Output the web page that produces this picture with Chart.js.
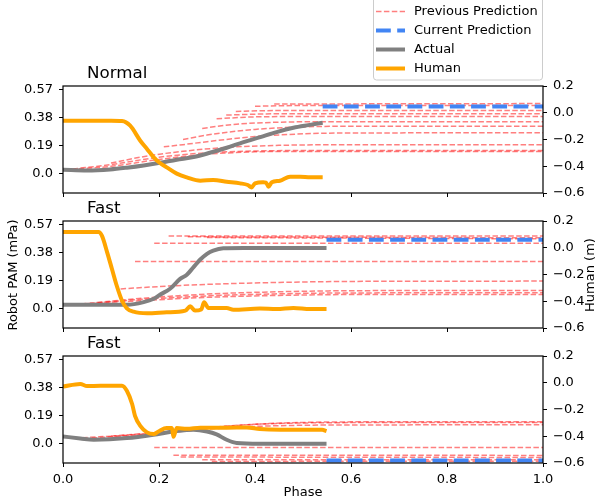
<!DOCTYPE html>
<html>
<head>
<meta charset="utf-8">
<script src="https://cdn.jsdelivr.net/npm/chart.js@4"></script>
<style>
  body { margin: 0; background: #fff; }
  #wrap { position: relative; width: 600px; height: 504px; overflow: hidden; background: #fff; }
  canvas { position: absolute; left: 0; }
</style>
</head>
<body>
<div id="wrap">
  <canvas id="c1" width="600" height="210" style="top:0px"></canvas>
  <canvas id="c2" width="600" height="145" style="top:200px"></canvas>
  <canvas id="c3" width="600" height="169" style="top:335px"></canvas>
</div>
<script>
// ---- data ----
const titles = ['Normal', 'Fast', 'Fast'];
const xTicks = [0, 0.2, 0.4, 0.6, 0.8, 1.0];
const leftTicks = [0, 0.19, 0.38, 0.57];
const rightTicks = [-0.6, -0.4, -0.2, 0, 0.2];

// subplot 1 (Normal)
const phaseA1 = [0, 0.05, 0.098, 0.133, 0.168, 0.202, 0.237, 0.272, 0.306, 0.341, 0.376, 0.411, 0.445, 0.48, 0.511, 0.541];
const actual1 = [0.025, 0.02, 0.027, 0.039, 0.054, 0.072, 0.093, 0.111, 0.14, 0.174, 0.212, 0.246, 0.28, 0.309, 0.327, 0.343];
const phaseH1 = [0, 0.05, 0.10, 0.123, 0.14, 0.161, 0.175, 0.189, 0.202, 0.216, 0.237, 0.258, 0.286, 0.313, 0.341, 0.369, 0.385, 0.393, 0.40, 0.417, 0.423, 0.428, 0.435, 0.452, 0.473, 0.494, 0.515, 0.541];
const human1 = [-0.06, -0.06, -0.06, -0.062, -0.097, -0.209, -0.271, -0.333, -0.376, -0.408, -0.455, -0.483, -0.508, -0.503, -0.516, -0.528, -0.54, -0.558, -0.528, -0.52, -0.522, -0.553, -0.52, -0.508, -0.478, -0.478, -0.483, -0.483];
const curPhase1 = [0.541, 1.0];
const cur1 = [0.453, 0.453];
const prevPhase1 = [
  [0, 0.1, 0.2, 0.3, 0.4, 0.5, 1.0],
  [0.02, 0.1, 0.2, 0.3, 0.4, 0.5, 1.0],
  [0.1, 0.17, 0.25, 0.35, 0.45, 0.55, 1.0],
  [0.21, 0.25, 0.3, 0.4, 0.5, 0.6, 1.0],
  [0.25, 0.3, 0.4, 0.5, 0.6, 1.0],
  [0.29, 0.35, 0.45, 0.55, 1.0],
  [0.32, 0.4, 0.5, 1.0],
  [0.34, 0.45, 1.0],
  [0.36, 0.45, 1.0],
  [0.40, 0.5, 1.0],
  [0.44, 1.0]
];
const prev1 = [
  [0.025, 0.048, 0.095, 0.13, 0.146, 0.149, 0.149],
  [0.03, 0.06, 0.11, 0.14, 0.152, 0.155, 0.155],
  [0.07, 0.115, 0.15, 0.178, 0.19, 0.194, 0.194],
  [0.18, 0.195, 0.215, 0.25, 0.268, 0.274, 0.275],
  [0.23, 0.26, 0.298, 0.315, 0.32, 0.32],
  [0.305, 0.33, 0.347, 0.35, 0.35],
  [0.37, 0.383, 0.385, 0.385],
  [0.395, 0.404, 0.404],
  [0.42, 0.426, 0.426],
  [0.455, 0.46, 0.46],
  [0.47, 0.473]
];

// subplot 2 (Fast)
const phaseA2 = [0, 0.133, 0.168, 0.189, 0.202, 0.223, 0.244, 0.258, 0.272, 0.286, 0.3, 0.313, 0.334, 0.376, 0.549];
const actual2 = [0.025, 0.025, 0.043, 0.066, 0.093, 0.133, 0.2, 0.228, 0.28, 0.331, 0.37, 0.392, 0.408, 0.41, 0.41];
const phaseH2 = [0, 0.074, 0.081, 0.092, 0.102, 0.112, 0.123, 0.133, 0.147, 0.175, 0.216, 0.255, 0.265, 0.275, 0.288, 0.294, 0.303, 0.341, 0.355, 0.41, 0.445, 0.48, 0.515, 0.549];
const human2 = [0.117, 0.117, 0.09, -0.034, -0.159, -0.284, -0.396, -0.453, -0.478, -0.49, -0.483, -0.47, -0.438, -0.47, -0.462, -0.408, -0.45, -0.45, -0.463, -0.455, -0.458, -0.45, -0.458, -0.458];
const curPhase2 = [0.549, 1.0];
const cur2 = [0.465, 0.465];
const prevPhase2 = [
  [0.02, 0.15, 0.3, 0.45, 0.6, 1.0],
  [0.04, 0.15, 0.3, 0.45, 0.6, 1.0],
  [0.07, 0.15, 0.3, 0.45, 0.6, 1.0],
  [0.12, 0.2, 0.3, 0.45, 0.6, 1.0],
  [0.15, 1.0],
  [0.19, 1.0],
  [0.22, 1.0],
  [0.26, 1.0],
  [0.30, 1.0]
];
const prev2 = [
  [0.028, 0.05, 0.075, 0.088, 0.094, 0.095],
  [0.03, 0.058, 0.085, 0.099, 0.105, 0.106],
  [0.04, 0.065, 0.097, 0.113, 0.12, 0.122],
  [0.132, 0.148, 0.163, 0.176, 0.183, 0.185],
  [0.318, 0.318],
  [0.442, 0.442],
  [0.49, 0.49],
  [0.485, 0.478],
  [0.48, 0.471]
];

// subplot 3 (Fast)
const phaseA3 = [0, 0.036, 0.064, 0.133, 0.202, 0.237, 0.272, 0.3, 0.32, 0.341, 0.362, 0.41, 0.549];
const actual3 = [0.047, 0.034, 0.025, 0.036, 0.066, 0.084, 0.093, 0.081, 0.061, 0.025, 0.003, -0.002, -0.002];
const phaseH3 = [0, 0.036, 0.05, 0.078, 0.123, 0.133, 0.144, 0.15, 0.161, 0.175, 0.189, 0.199, 0.216, 0.227, 0.23, 0.237, 0.258, 0.286, 0.341, 0.383, 0.41, 0.515, 0.54, 0.549];
const human3 = [-0.029, -0.009, -0.025, -0.022, -0.022, -0.06, -0.159, -0.247, -0.322, -0.371, -0.384, -0.364, -0.339, -0.339, -0.404, -0.339, -0.344, -0.336, -0.336, -0.335, -0.345, -0.352, -0.352, -0.362];
const curPhase3 = [0.549, 1.0];
const cur3 = [-0.115, -0.115];
const prevPhase3 = [
  [0.04, 0.15, 0.25, 0.35, 0.45, 0.6, 1.0],
  [0.06, 0.15, 0.25, 0.35, 0.45, 0.6, 1.0],
  [0.1, 0.2, 0.3, 0.4, 0.5, 0.6, 1.0],
  [0.19, 1.0],
  [0.23, 1.0],
  [0.245, 1.0],
  [0.29, 1.0],
  [0.31, 1.0]
];
const prev3 = [
  [0.038, 0.06, 0.09, 0.12, 0.135, 0.141, 0.142],
  [0.036, 0.055, 0.082, 0.108, 0.12, 0.125, 0.126],
  [0.05, 0.075, 0.105, 0.13, 0.142, 0.146, 0.147],
  [-0.028, -0.027],
  [-0.08, -0.081],
  [-0.092, -0.095],
  [-0.11, -0.11],
  [-0.122, -0.12]
];

const subplots = [
  { pa: phaseA1, a: actual1, ph: phaseH1, h: human1, pc: curPhase1, c: cur1, pp: prevPhase1, p: prev1 },
  { pa: phaseA2, a: actual2, ph: phaseH2, h: human2, pc: curPhase2, c: cur2, pp: prevPhase2, p: prev2 },
  { pa: phaseA3, a: actual3, ph: phaseH3, h: human3, pc: curPhase3, c: cur3, pp: prevPhase3, p: prev3 }
];

// ---- styles ----
const prevColor = 'rgba(255, 0, 0, 0.5)';
const curColor = '#4285f4';
const actColor = '#808080';
const humColor = '#ffa500';
const tickFont = { family: 'DejaVu Sans', size: 13 };

Chart.defaults.font.family = 'DejaVu Sans';
Chart.defaults.color = '#000';

function pts(xs, ys) {
  return xs.map((x, i) => ({ x: x, y: ys[i] }));
}

function makeDatasets(s) {
  const ds = [];
  ds.push({ label: 'Human', data: pts(s.ph, s.h), yAxisID: 'yR', borderColor: humColor, borderWidth: 4 });
  ds.push({ label: 'Actual', data: pts(s.pa, s.a), yAxisID: 'yL', borderColor: actColor, borderWidth: 4 });
  ds.push({ label: 'Current Prediction', data: pts(s.pc, s.c), yAxisID: 'yL', borderColor: curColor, borderWidth: 4, borderDash: [14.8, 6.4] });
  for (let i = 0; i < s.pp.length; i++) {
    ds.push({ label: 'Previous Prediction', data: pts(s.pp[i], s.p[i]), yAxisID: 'yL', borderColor: prevColor, borderWidth: 1.5, borderDash: [5.5, 2.4] });
  }
  return ds;
}

function leftLabel(v) { return v === 0 ? '0.0' : v.toFixed(2); }
function rightLabel(v) { return (v < -1e-9 ? '\u2212' : '') + Math.abs(v).toFixed(1); }

function makeScales(showX) {
  return {
    x: {
      type: 'linear', min: 0, max: 1,
      afterBuildTicks: s => { s.ticks = xTicks.map(v => ({ value: v })); },
      afterFit: s => { s.height = showX ? 41 : 4; },
      grid: { drawOnChartArea: false, color: '#000', tickLength: 4 },
      border: { display: false },
      ticks: { display: showX, font: tickFont, color: '#000', padding: 5, maxRotation: 0, callback: v => v.toFixed(1) }
    },
    yL: {
      type: 'linear', position: 'left', min: -0.1325, max: 0.592,
      afterBuildTicks: s => { s.ticks = leftTicks.map(v => ({ value: v })); },
      afterFit: s => { s.width = 63; },
      grid: { drawOnChartArea: false, color: '#000', tickLength: 4 },
      border: { display: false },
      ticks: { font: tickFont, color: '#000', padding: 6, callback: leftLabel }
    },
    yR: {
      type: 'linear', position: 'right', min: -0.6, max: 0.2,
      afterBuildTicks: s => { s.ticks = rightTicks.map(v => ({ value: v })); },
      afterFit: s => { s.width = 57; },
      grid: { drawOnChartArea: false, color: '#000', tickLength: 4 },
      border: { display: false },
      ticks: { font: tickFont, color: '#000', padding: 6, callback: rightLabel }
    }
  };
}

const framePlugin = {
  id: 'frame',
  afterDraw(chart) {
    const a = chart.chartArea, ctx = chart.ctx;
    ctx.save();
    ctx.strokeStyle = '#000';
    ctx.lineWidth = 1.2;
    ctx.strokeRect(a.left, a.top, a.right - a.left, a.bottom - a.top);
    ctx.restore();
  }
};

function textPlugin(items) {
  return {
    id: 'texts',
    afterDraw(chart) {
      const ctx = chart.ctx;
      ctx.save();
      ctx.fillStyle = '#000';
      items.forEach(t => {
        ctx.save();
        ctx.font = t.size + 'px "DejaVu Sans"';
        ctx.textAlign = t.align || 'center';
        ctx.textBaseline = 'middle';
        ctx.translate(t.x, t.y);
        if (t.rot) ctx.rotate(-Math.PI / 2);
        ctx.fillText(t.text, 0, 0);
        ctx.restore();
      });
      ctx.restore();
    }
  };
}

const legendItems = [
  { label: 'Previous Prediction', color: prevColor, width: 1.5, dash: [5.5, 2.4] },
  { label: 'Current Prediction', color: curColor, width: 4, dash: [14.8, 6.4] },
  { label: 'Actual', color: actColor, width: 4, dash: [] },
  { label: 'Human', color: humColor, width: 4, dash: [] }
];

const legendPlugin = {
  id: 'boxlegend',
  afterDraw(chart) {
    const ctx = chart.ctx;
    ctx.save();
    ctx.beginPath();
    ctx.roundRect(373.5, -3.5, 169, 83.5, 3);
    ctx.fillStyle = 'rgba(255,255,255,0.8)';
    ctx.fill();
    ctx.strokeStyle = '#cccccc';
    ctx.lineWidth = 1;
    ctx.stroke();
    legendItems.forEach((it, i) => {
      const y = 11.5 + i * 19;
      ctx.beginPath();
      ctx.setLineDash(it.dash);
      ctx.lineWidth = it.width;
      ctx.strokeStyle = it.color;
      ctx.moveTo(376, y);
      ctx.lineTo(405, y);
      ctx.stroke();
      ctx.setLineDash([]);
      ctx.fillStyle = '#000';
      ctx.font = '13px "DejaVu Sans"';
      ctx.textAlign = 'left';
      ctx.textBaseline = 'middle';
      ctx.fillText(it.label, 414, y);
    });
    ctx.restore();
  }
};

const pads = [
  { top: 86, bottom: 13, left: 0, right: 0 },
  { top: 21, bottom: 13, left: 0, right: 0 },
  { top: 21, bottom: 0, left: 0, right: 0 }
];

const extraTexts = [
  [{ text: titles[0], x: 87, y: 74, size: 16.7, align: 'left' }],
  [{ text: titles[1], x: 87, y: 9, size: 16.7, align: 'left' },
   { text: 'Robot PAM (mPa)', x: 14, y: 75, size: 13, rot: true },
   { text: 'Human (m)', x: 591, y: 75, size: 13, rot: true }],
  [{ text: titles[2], x: 87, y: 9, size: 16.7, align: 'left' },
   { text: 'Phase', x: 303, y: 158, size: 13 }]
];

subplots.forEach((s, k) => {
  const plugins = [framePlugin, textPlugin(extraTexts[k])];
  if (k === 0) plugins.push(legendPlugin);
  new Chart(document.getElementById('c' + (k + 1)), {
    type: 'line',
    data: { datasets: makeDatasets(s) },
    options: {
      responsive: false,
      animation: false,
      events: [],
      layout: { padding: pads[k] },
      elements: { point: { radius: 0 }, line: { cubicInterpolationMode: 'monotone', borderCapStyle: 'butt' } },
      plugins: { legend: { display: false }, tooltip: { enabled: false } },
      scales: makeScales(k === 2)
    },
    plugins: plugins
  });
});
</script>
</body>
</html>
